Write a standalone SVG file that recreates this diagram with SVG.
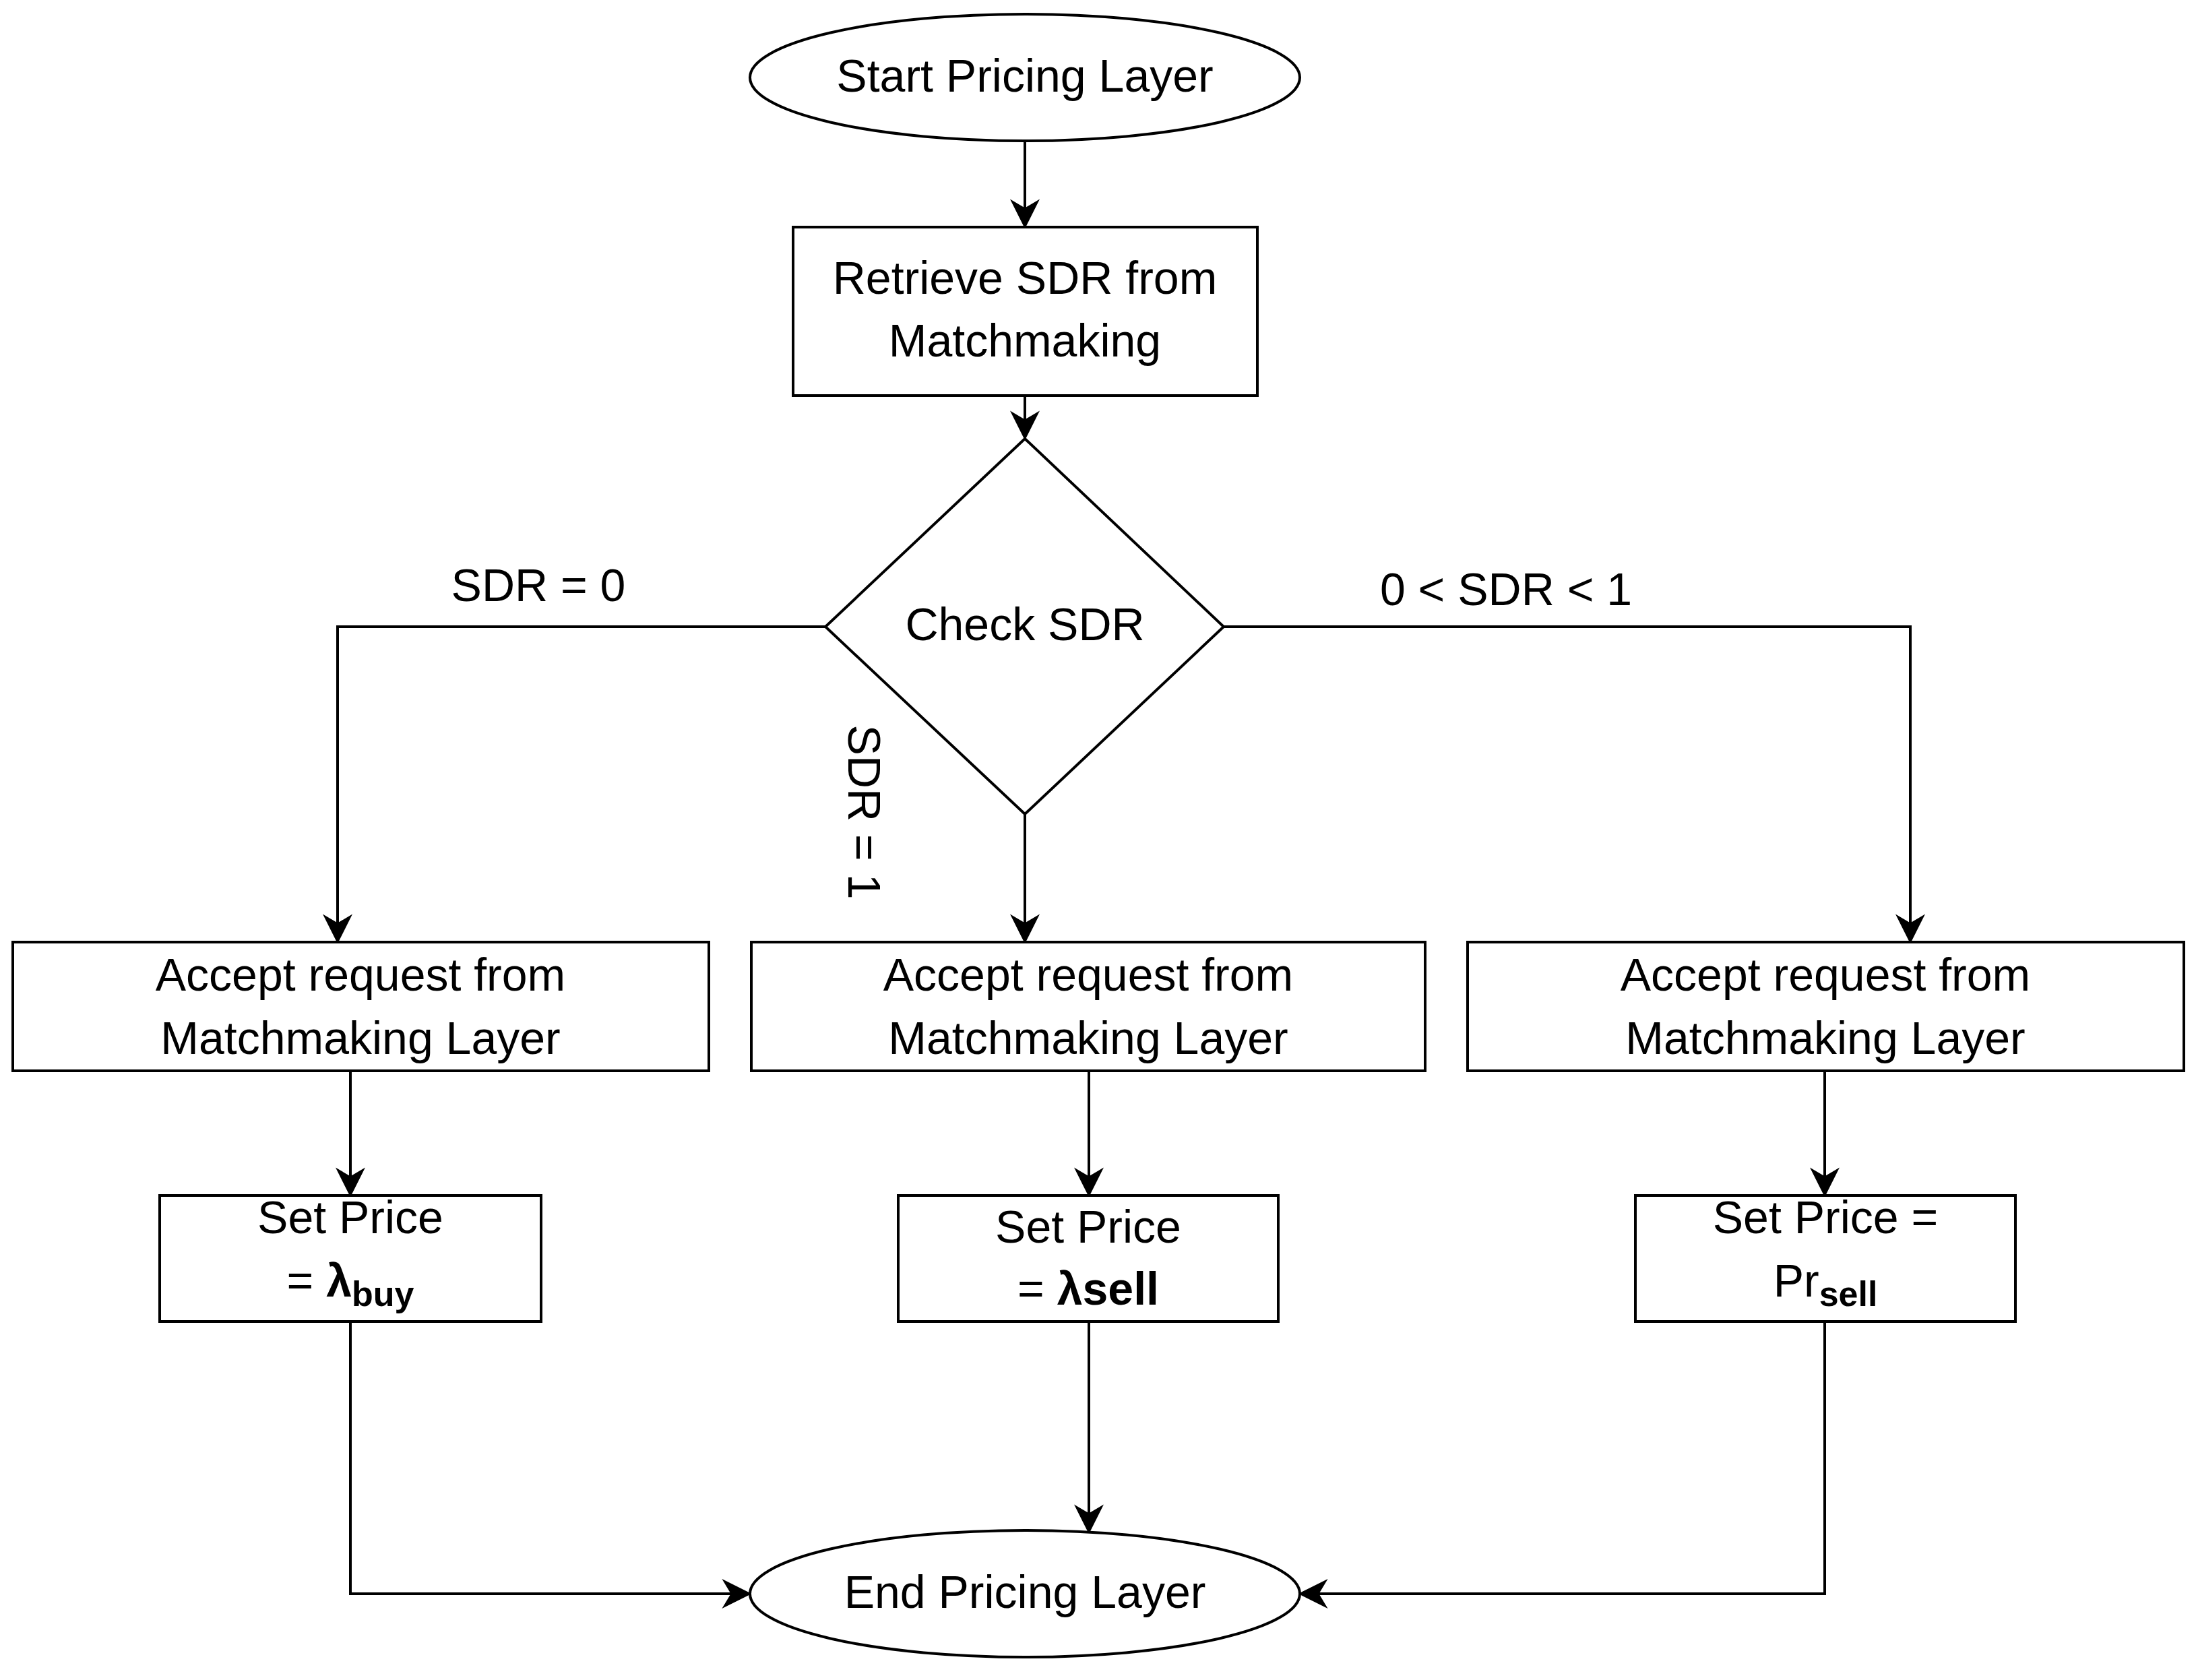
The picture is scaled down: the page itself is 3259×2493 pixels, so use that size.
<svg xmlns="http://www.w3.org/2000/svg" width="3259" height="2493" viewBox="0 0 3259 2493">
<style>
.s{fill:#fff;stroke:#000;stroke-width:4}
.c{fill:none;stroke:#000;stroke-width:4;marker-end:url(#a)}
text{font-family:"Liberation Sans",Arial,sans-serif;font-size:68px;fill:#000;text-anchor:middle;dominant-baseline:central}
.b{font-weight:bold}
</style>
<defs><marker id="a" markerWidth="12" markerHeight="12" refX="11" refY="6" orient="auto" markerUnits="userSpaceOnUse" viewBox="0 0 12 12"><path d="M0,0 L12,6 L0,12 L3,6 Z" fill="#000" transform="scale(1)"/></marker>
<marker id="m" viewBox="0 0 10 10" refX="9" refY="5" markerWidth="44" markerHeight="44" markerUnits="userSpaceOnUse" orient="auto"><path d="M0,0 L10,5 L0,10 L3,5 Z" fill="#000"/></marker></defs>
<rect width="3259" height="2493" fill="#fff"/>
<g id="edges" style="marker-end:url(#m)">
<path class="c" style="marker-end:url(#m)" d="M1521,209 V335"/>
<path class="c" style="marker-end:url(#m)" d="M1521,587 V649"/>
<path class="c" style="marker-end:url(#m)" d="M1225,930 H501 V1396"/>
<path class="c" style="marker-end:url(#m)" d="M1521,1208 V1396"/>
<path class="c" style="marker-end:url(#m)" d="M1816,930 H2835 V1396"/>
<path class="c" style="marker-end:url(#m)" d="M520,1589 V1772"/>
<path class="c" style="marker-end:url(#m)" d="M1616,1589 V1772"/>
<path class="c" style="marker-end:url(#m)" d="M2708,1589 V1772"/>
<path class="c" style="marker-end:url(#m)" d="M520,1961 V2365 H1111"/>
<path class="c" style="marker-end:url(#m)" d="M1616,1961 V2272"/>
<path class="c" style="marker-end:url(#m)" d="M2708,1961 V2365 H1931"/>
<text x="799" y="868">SDR = 0</text>
<text x="2235" y="874" font-size="56">0 &lt; SDR &lt; 1</text>
<text transform="translate(1283,1205) rotate(90)">SDR = 1</text>
</g>
<g id="start"><ellipse class="s" cx="1521" cy="115" rx="408" ry="94"/><text x="1521" y="112">Start Pricing Layer</text></g>
<g id="retrieve"><rect class="s" x="1177" y="337" width="689" height="250"/><text x="1521" y="412">Retrieve SDR from</text><text x="1521" y="505">Matchmaking</text></g>
<g id="check"><path class="s" d="M1521,651 L1816,930 L1521,1208 L1225,930 Z"/><text x="1521" y="926">Check SDR</text></g>
<g id="acceptL"><rect class="s" x="19" y="1398" width="1033" height="191"/><text x="535" y="1446">Accept request from</text><text x="535" y="1540">Matchmaking Layer</text></g>
<g id="acceptM"><rect class="s" x="1115" y="1398" width="1000" height="191"/><text x="1615" y="1446">Accept request from</text><text x="1615" y="1540">Matchmaking Layer</text></g>
<g id="acceptR"><rect class="s" x="2178" y="1398" width="1063" height="191"/><text x="2709" y="1446">Accept request from</text><text x="2709" y="1540">Matchmaking Layer</text></g>
<g id="priceL"><rect class="s" x="237" y="1774" width="566" height="187"/><text x="520" y="1806">Set Price</text><text x="520" y="1900">= <tspan class="b">λ</tspan><tspan class="b" font-size="52" dy="20">buy</tspan></text></g>
<g id="priceM"><rect class="s" x="1333" y="1774" width="564" height="187"/><text x="1615" y="1820">Set Price</text><text x="1615" y="1912" font-size="60">= <tspan class="b">λsell</tspan></text></g>
<g id="priceR"><rect class="s" x="2427" y="1774" width="564" height="187"/><text x="2709" y="1806">Set Price =</text><text x="2709" y="1900">Pr<tspan class="b" font-size="52" dy="20">sell</tspan></text></g>
<g id="end"><ellipse class="s" cx="1521" cy="2365" rx="408" ry="94"/><text x="1521" y="2362">End Pricing Layer</text></g>
</svg>
